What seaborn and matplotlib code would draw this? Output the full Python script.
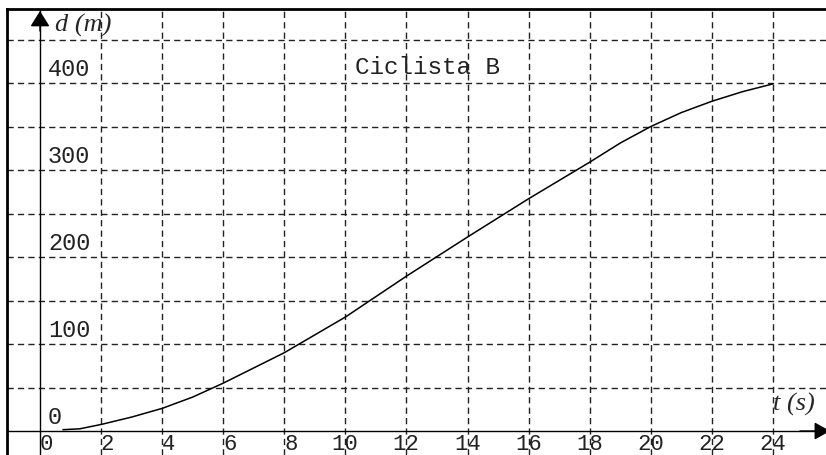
import numpy as np
import pandas as pd
import matplotlib
matplotlib.use("Agg")
import matplotlib.pyplot as plt
import seaborn as sns

# values
t_vals = [0.75, 1.3, 2, 3, 4, 5, 6, 8, 10, 12, 14, 16, 18, 19, 20, 21, 22, 23, 24]
d_vals = [1.5, 2.5, 7.5, 16, 26, 39, 55, 90, 131, 178, 223, 267, 309, 331, 350, 366, 379, 390, 399]
x_ticks = [0, 2, 4, 6, 8, 10, 12, 14, 16, 18, 20, 22, 24]
y_ticks = [0, 100, 200, 300, 400]
x_grid = [2, 4, 6, 8, 10, 12, 14, 16, 18, 20, 22, 24]
y_grid = [50, 100, 150, 200, 250, 300, 350, 400, 450]
title = "Ciclista B"

df = pd.DataFrame({"t": t_vals, "d": d_vals})

sns.set_theme(style="white")
plt.rcParams["lines.scale_dashes"] = False
mono = ["Liberation Mono", "DejaVu Sans Mono"]

fig = plt.figure(figsize=(8.26, 4.56), dpi=100)
ax = fig.add_axes([7 / 826, 0, 819 / 826, 446 / 456])

# 30.54 px per second, 0.87 px per metre, origin at pixel (40, 432)
ax.set_xlim(-33 / 30.54, 786 / 30.54)
ax.set_ylim(-24 / 0.87, 422 / 0.87)

for g in x_grid:
    ax.axvline(g, color="#222222", lw=1.0, dashes=(4.5, 3))
for g in y_grid:
    ax.axhline(g, color="#222222", lw=1.0, dashes=(4.5, 3))

# axes with arrows
ax.axhline(0, color="black", lw=1)
ax.axvline(0, color="black", lw=1)
ax.annotate("", xy=(0, 420 / 0.87), xytext=(0, 400 / 0.87),
            arrowprops=dict(arrowstyle="-|>,head_length=0.8,head_width=0.5",
                            color="black", lw=1, shrinkA=0, shrinkB=0))
ax.annotate("", xy=(790 / 30.54, 0), xytext=(760 / 30.54, 0),
            annotation_clip=False,
            arrowprops=dict(arrowstyle="-|>,head_length=0.8,head_width=0.45",
                            color="black", lw=1, shrinkA=0, shrinkB=0))

sns.lineplot(data=df, x="t", y="d", color="black", lw=1.1, ax=ax)

for v in y_ticks:
    ax.text(0.26, v + 9.2, str(v), family=mono, fontsize=17, color="#222222",
            ha="left", va="baseline")
for v in x_ticks:
    ax.text(v + 0.43, -20.5, str(v), family=mono, fontsize=16, color="#222222",
            ha="right", va="baseline")

ax.text(10.3, 419.5, title, family=mono, fontsize=17.5, color="#222222",
        ha="left", va="center")
ax.text(0.49, 467, "d (m)", family="Liberation Serif", style="italic",
        fontsize=19, ha="left", va="center")
ax.text(24.0, 32, "t (s)", family="Liberation Serif", style="italic",
        fontsize=19, ha="left", va="center")

ax.set_xticks([])
ax.set_yticks([])
ax.set_xlabel("")
ax.set_ylabel("")
for side in ["right", "bottom"]:
    ax.spines[side].set_visible(False)
for side in ["left", "top"]:
    ax.spines[side].set_color("black")
    ax.spines[side].set_linewidth(2)

fig.savefig("out.png", dpi=100)
